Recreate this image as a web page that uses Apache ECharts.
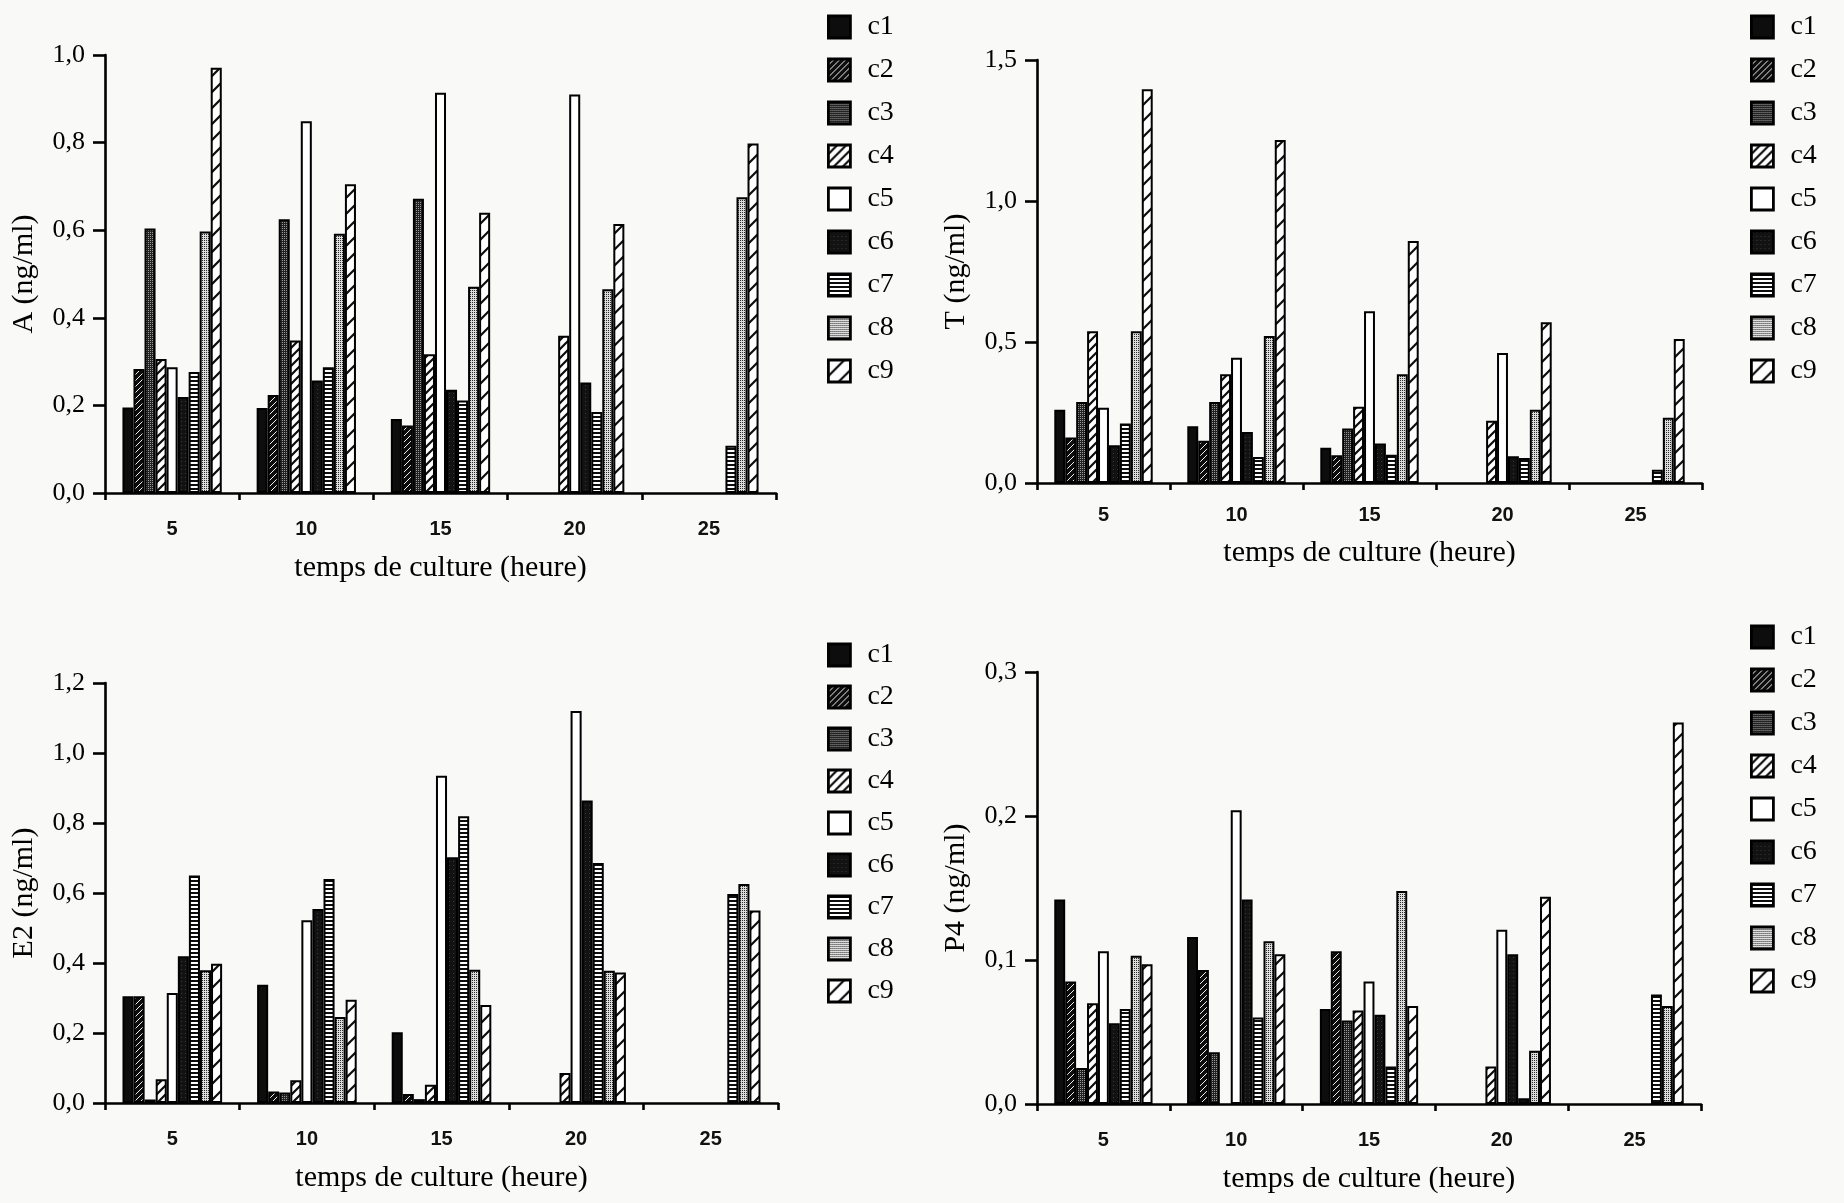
<!DOCTYPE html>
<html><head><meta charset="utf-8">
<script src="https://cdn.jsdelivr.net/npm/echarts@6/dist/echarts.min.js"></script>
<style>html,body{margin:0;padding:0;background:#f9f9f7}#c{width:1844px;height:1203px}</style>
</head><body><div id="c"></div>
<script>
const categories = ['5', '10', '15', '20', '25'];
const seriesNames = ['c1','c2','c3','c4','c5','c6','c7','c8','c9'];
const xAxisTitle = 'temps de culture (heure)';
const yTitles = ['A (ng/ml)', 'T (ng/ml)', 'E2 (ng/ml)', 'P4 (ng/ml)'];
const yTicksA = [0, 1.0, 0.2];
const yTicksT = [0, 1.5, 0.5];
const yTicksE2 = [0, 1.2, 0.2];
const yTicksP4 = [0, 0.3, 0.1];

// values per series c1..c9, across times 5,10,15,20,25 (null = no bar)
const valuesA = [
  [0.195, 0.194, 0.169, null, null],
  [0.283, 0.224, 0.154, null, null],
  [0.604, 0.625, 0.672, null, null],
  [0.306, 0.348, 0.317, 0.359, null],
  [0.287, 0.849, 0.914, 0.910, null],
  [0.219, 0.257, 0.236, 0.252, null],
  [0.276, 0.287, 0.211, 0.185, 0.108],
  [0.597, 0.592, 0.471, 0.465, 0.675],
  [0.971, 0.705, 0.640, 0.614, 0.798]
];
const valuesT = [
  [0.260, 0.201, 0.125, null, null],
  [0.161, 0.150, 0.098, null, null],
  [0.287, 0.287, 0.193, null, null],
  [0.538, 0.386, 0.270, 0.221, null],
  [0.267, 0.444, 0.609, 0.461, null],
  [0.134, 0.181, 0.140, 0.095, null],
  [0.211, 0.092, 0.100, 0.089, 0.047],
  [0.538, 0.521, 0.386, 0.260, 0.231],
  [1.396, 1.216, 0.858, 0.570, 0.511]
];
const valuesE2 = [
  [0.305, 0.338, 0.202, null, null],
  [0.305, 0.033, 0.026, null, null],
  [0.010, 0.030, 0.011, null, null],
  [0.068, 0.065, 0.052, 0.086, null],
  [0.314, 0.522, 0.935, 1.120, null],
  [0.419, 0.554, 0.702, 0.864, null],
  [0.650, 0.640, 0.819, 0.686, 0.597],
  [0.379, 0.246, 0.381, 0.378, 0.626],
  [0.398, 0.295, 0.280, 0.373, 0.550]
];
const valuesP4 = [
  [0.142, 0.116, 0.066, null, null],
  [0.085, 0.093, 0.106, null, null],
  [0.025, 0.036, 0.058, null, null],
  [0.070, null, 0.065, 0.026, null],
  [0.106, 0.204, 0.085, 0.121, null],
  [0.056, 0.142, 0.062, 0.104, null],
  [0.066, 0.060, 0.026, 0.004, 0.076],
  [0.103, 0.113, 0.148, 0.037, 0.068],
  [0.097, 0.104, 0.068, 0.144, 0.265]
];

function tile(w, h, draw) {
  const c = document.createElement('canvas'); c.width = w; c.height = h;
  const g = c.getContext('2d'); draw(g, w, h); return c;
}
function diag(g, w, h, lw) {
  g.lineWidth = lw; g.beginPath();
  g.moveTo(-2, h + 2); g.lineTo(w + 2, -2);
  g.moveTo(-2 - w, h + 2); g.lineTo(2, -2);
  g.moveTo(w - 2, h + 2); g.lineTo(2 * w + 2, -2);
  g.stroke();
}
const pats = [
  tile(4, 4, (g) => { g.fillStyle = '#0d0d0d'; g.fillRect(0, 0, 4, 4); }),
  tile(6, 6, (g, w, h) => { g.fillStyle = '#0d0d0d'; g.fillRect(0, 0, w, h); g.strokeStyle = '#eee'; diag(g, w, h, 1); }),
  tile(4, 4, (g) => { g.fillStyle = '#222'; g.fillRect(0, 0, 4, 4); g.fillStyle = '#9a9a9a'; g.fillRect(0, 0, 1, 1); g.fillRect(2, 2, 1, 1); g.fillRect(2,0,1,1); g.fillRect(0,2,1,1); }),
  tile(9, 9, (g, w, h) => { g.fillStyle = '#fff'; g.fillRect(0, 0, w, h); g.strokeStyle = '#0d0d0d'; diag(g, w, h, 2.2); }),
  tile(4, 4, (g) => { g.fillStyle = '#fff'; g.fillRect(0, 0, 4, 4); }),
  tile(4, 4, (g) => { g.fillStyle = '#121212'; g.fillRect(0, 0, 4, 4); g.fillStyle = '#3a3a3a'; g.fillRect(1, 1, 1, 1); }),
  tile(4, 4, (g) => { g.fillStyle = '#fff'; g.fillRect(0, 0, 4, 4); g.fillStyle = '#0d0d0d'; g.fillRect(0, 0, 4, 2); }),
  tile(2, 2, (g) => { g.fillStyle = '#dcdcdc'; g.fillRect(0, 0, 2, 2); g.fillStyle = '#2a2a2a'; g.fillRect(0, 0, 1, 1); }),
  tile(16, 16, (g, w, h) => { g.fillStyle = '#fff'; g.fillRect(0, 0, w, h); g.strokeStyle = '#0d0d0d'; diag(g, w, h, 2.2); })
];

const panels = [
  { vals: valuesA,  ticks: yTicksA,  grid: {left: 105, top: 55, width: 671, height: 438}, legend: {left: 822, top: 8}, gap: 15, labMargin: 26, nameGap: 60 },
  { vals: valuesT,  ticks: yTicksT,  grid: {left: 1037, top: 60, width: 665, height: 423}, legend: {left: 1745, top: 8}, gap: 15, labMargin: 22, nameGap: 55 },
  { vals: valuesE2, ticks: yTicksE2, grid: {left: 105, top: 683, width: 673, height: 420}, legend: {left: 822, top: 636}, gap: 14, labMargin: 26, nameGap: 60 },
  { vals: valuesP4, ticks: yTicksP4, grid: {left: 1037, top: 672, width: 664, height: 432}, legend: {left: 1745, top: 618}, gap: 15, labMargin: 26, nameGap: 60 }
];

const serif = 'Liberation Serif';
const sans = 'Liberation Sans';
const grids = [], xAxes = [], yAxes = [], legends = [], series = [];
panels.forEach((p, gi) => {
  grids.push(Object.assign({}, p.grid));
  xAxes.push({
    type: 'category', gridIndex: gi, data: categories,
    name: xAxisTitle, nameLocation: 'middle', nameGap: p.nameGap,
    nameTextStyle: { fontFamily: serif, fontSize: 30, color: '#000' },
    axisLine: { lineStyle: { color: '#000', width: 2.6 } },
    axisTick: { show: true, length: 7, lineStyle: { color: '#000', width: 2.6 } },
    axisLabel: { fontFamily: sans, fontSize: 20, fontWeight: 'bold', color: '#111', margin: p.labMargin }
  });
  yAxes.push({
    type: 'value', gridIndex: gi, min: p.ticks[0], max: p.ticks[1], interval: p.ticks[2],
    name: yTitles[gi], nameLocation: 'middle', nameRotate: 90, nameGap: 66,
    nameTextStyle: { fontFamily: serif, fontSize: 30, color: '#000' },
    splitLine: { show: false },
    axisLine: { show: true, lineStyle: { color: '#000', width: 2.6 } },
    axisTick: { show: true, length: 12, lineStyle: { color: '#000', width: 2.6 } },
    axisLabel: { fontFamily: serif, fontSize: 26, color: '#000', margin: 20,
      formatter: (v) => v.toFixed(1).replace('.', ',') }
  });
  legends.push({
    data: seriesNames, orient: 'vertical', left: p.legend.left, top: p.legend.top,
    itemWidth: 22, itemHeight: 22, itemGap: p.gap, icon: 'rect', selectedMode: false,
    itemStyle: { borderWidth: 2.8, borderColor: '#000' },
    textStyle: { fontFamily: serif, fontSize: 28, color: '#000', lineHeight: 22, padding: [0, 0, 0, 12] }
  });
  p.vals.forEach((arr, si) => {
    series.push({
      type: 'bar', name: seriesNames[si], xAxisIndex: gi, yAxisIndex: gi, data: arr,
      barGap: 0, barCategoryGap: '26%',
      itemStyle: { color: { image: pats[si], repeat: 'repeat' }, borderColor: '#000', borderWidth: 2 }
    });
  });
});

const chart = echarts.init(document.getElementById('c'), null, { renderer: 'canvas' });
chart.setOption({
  animation: false, backgroundColor: '#f9f9f7',
  grid: grids, xAxis: xAxes, yAxis: yAxes, legend: legends, series: series
});
</script></body></html>
